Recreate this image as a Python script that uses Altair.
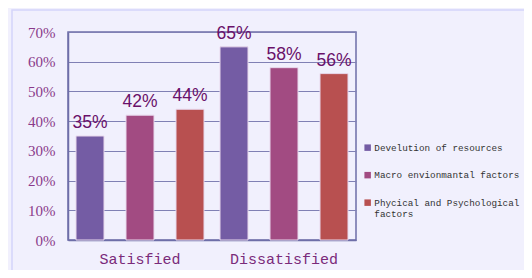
import altair as alt
import pandas as pd

groups = ["Satisfied", "Dissatisfied"]
factors = ["Develution of resources", "Macro envionmantal factors", "Phycical and Psychological factors"]
satisfied = [0.35, 0.42, 0.44]
dissatisfied = [0.65, 0.58, 0.56]
colors = ["#745ca4", "#a24b82", "#b85050"]

rows = []
for f, v in zip(factors, satisfied):
    rows.append({"group": "Satisfied", "factor": f, "value": v})
for f, v in zip(factors, dissatisfied):
    rows.append({"group": "Dissatisfied", "factor": f, "value": v})
df = pd.DataFrame(rows)

border = alt.Chart(pd.DataFrame({"a": [0]})).mark_rect(
    fill="transparent", stroke="#d4d4fa", strokeWidth=1.5
).encode(
    x=alt.value(-56), x2=alt.value(470), y=alt.value(-22), y2=alt.value(262)
)

base = alt.Chart(df).encode(
    x=alt.X("group:N", sort=groups, scale=alt.Scale(paddingInner=0, paddingOuter=0),
            axis=alt.Axis(title=None, labelAngle=0, labelFont="Liberation Mono",
                          labelFontSize=15, labelColor="#7a2a7a", ticks=False,
                          labelPadding=11, domainColor="#6e6ea8", domainWidth=1.5)),
    xOffset=alt.XOffset("factor:N", sort=factors,
                        scale=alt.Scale(paddingInner=0.44, paddingOuter=0.16)),
    y=alt.Y("value:Q", scale=alt.Scale(domain=[0, 0.7]),
            axis=alt.Axis(title=None, format=".0%", values=[0, .1, .2, .3, .4, .5, .6, .7],
                          labelFont="Liberation Serif", labelFontSize=15,
                          labelColor="#8a3a8a", ticks=False, labelPadding=13,
                          gridColor="#8080b4", gridWidth=1.2,
                          domainColor="#6e6ea8", domainWidth=1.5)),
)

bars = base.mark_bar(stroke="#e8d8ec", strokeWidth=1).encode(
    color=alt.Color("factor:N", sort=factors,
                    scale=alt.Scale(domain=factors, range=colors),
                    legend=alt.Legend(title=None, orient="none", legendX=295, legendY=111,
                                      symbolType="square", symbolSize=42, symbolStrokeWidth=0,
                                      labelFont="Liberation Mono", labelFontSize=9.3,
                                      labelColor="#333333", labelLimit=300, rowPadding=17.5,
                                      labelOffset=2,
                                      labelExpr="datum.label == 'Phycical and Psychological factors' ? ['Phycical and Psychological', 'factors'] : datum.label"))
)

labels = base.mark_text(baseline="bottom", dy=-4, font="Liberation Sans",
                        fontSize=17.5, color="#6a106a").encode(
    text=alt.Text("value:Q", format=".0%")
)

chart = alt.layer(bars, labels, border).properties(
    width=288, height=208,
    autosize=alt.AutoSizeParams(type="none"),
    padding={"left": 60, "top": 24, "right": 168, "bottom": 30},
    background="#f1f0fd",
).configure_view(stroke="#6e6ea8", strokeWidth=1.5)

chart.save("out.html", embed_options={"renderer": "svg", "actions": False})
